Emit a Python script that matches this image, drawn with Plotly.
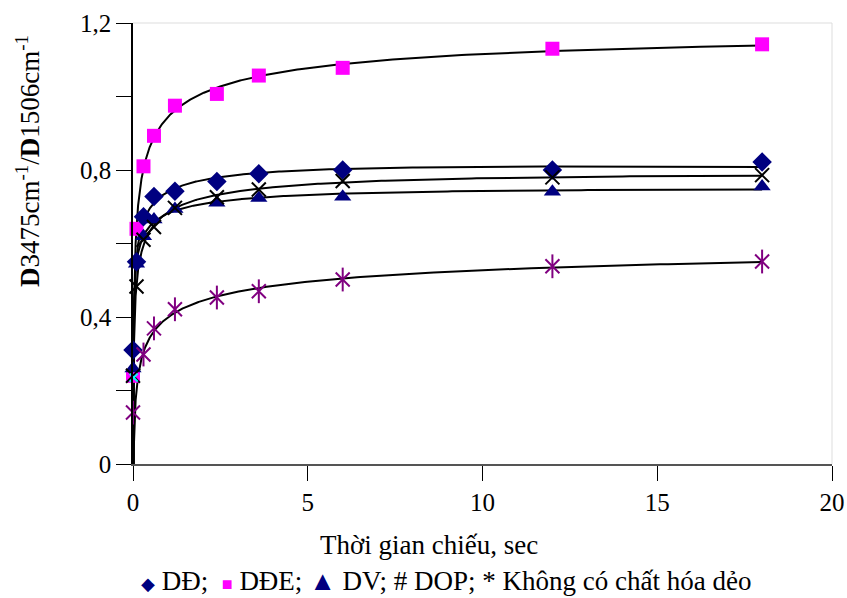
import numpy as np
import plotly.graph_objects as go

# Time (sec)
time_dd = [0, 0.1, 0.3, 0.6, 1.2, 2.4, 3.6, 6, 12, 18]
dd = [0.31, 0.55, 0.673, 0.728, 0.742, 0.769, 0.79, 0.80, 0.80, 0.822]

time_dde = [0, 0.1, 0.3, 0.6, 1.2, 2.4, 3.6, 6, 12, 18]
dde = [0.24, 0.64, 0.81, 0.893, 0.975, 1.007, 1.057, 1.078, 1.13, 1.142]

time_dv = [0, 0.1, 0.3, 0.6, 1.2, 2.4, 3.6, 6, 12, 18]
dv = [0.26, 0.545, 0.62, 0.665, 0.694, 0.711, 0.724, 0.727, 0.741, 0.755]

time_dop = [0, 0.1, 0.3, 0.6, 1.2, 2.4, 3.6, 6, 12, 18]
dop = [0.24, 0.483, 0.61, 0.645, 0.697, 0.726, 0.747, 0.77, 0.78, 0.786]

time_none = [0, 0.3, 0.6, 1.2, 2.4, 3.6, 6, 12, 18]
none = [0.14, 0.298, 0.369, 0.421, 0.453, 0.470, 0.502, 0.538, 0.551]

time_extra = [0.02]
extra = [0.235]

x_ticks = [0, 5, 10, 15, 20]
y_ticks = [0, 0.2, 0.4, 0.6, 0.8, 1.0, 1.2]
y_tick_text = ["0", "", "0,4", "", "0,8", "", "1,2"]

FONT = "Liberation Serif"
fig = go.Figure()


def trend(xs, ys):
    xs = np.array(xs, dtype=float)
    ys = np.array(ys, dtype=float)
    m = xs > 0
    c = np.polyfit(np.log(xs[m]), ys[m], 2)
    xx = np.concatenate([np.linspace(0.0005, 0.05, 200), np.logspace(np.log10(0.05), np.log10(18), 400)])
    return xx, np.polyval(c, np.log(xx))


for xs, ys in [(time_dd, dd), (time_dde, dde), (time_dv, dv), (time_dop, dop), (time_none, none)]:
    tx, ty = trend(xs, ys)
    fig.add_trace(go.Scatter(x=tx, y=ty, mode="lines", line=dict(color="black", width=2),
                             showlegend=False, hoverinfo="skip"))

series = [
    (time_dde, dde, dict(symbol="square", size=14, color="#FF00FF")),
    (time_dd, dd, dict(symbol="diamond", size=15, color="#000080")),
    (time_dv, dv, dict(symbol="triangle-up", size=15, color="#000080")),
    (time_dop, dop, dict(symbol="x-thin-open", size=14, color="black", line=dict(width=2, color="black"))),
    (time_none, none, dict(symbol="x-thin-open", size=14, color="#800080", line=dict(width=2, color="#800080"))),
    (time_none, none, dict(symbol="line-ns-open", size=17, color="#800080", line=dict(width=2, color="#800080"))),
    (time_extra, extra, dict(symbol="x-thin-open", size=8, color="#00FFFF", line=dict(width=2, color="#00FFFF"))),
]
for xs, ys, mk in series:
    fig.add_trace(go.Scatter(x=xs, y=ys, mode="markers", marker=mk, cliponaxis=False, showlegend=False))

fig.update_xaxes(range=[0, 20], tickvals=x_ticks, ticks="outside", ticklen=15, tickwidth=1,
                 tickcolor="black", showline=True, linecolor="#555555", linewidth=1.5,
                 showgrid=False, zeroline=False, automargin=False,
                 tickfont=dict(family=FONT, size=25, color="black"))
fig.update_yaxes(range=[0, 1.2], tickvals=y_ticks, ticktext=y_tick_text, ticks="outside", ticklen=15,
                 tickwidth=1, tickcolor="black", showline=True, linecolor="black", linewidth=1.5,
                 showgrid=False, zeroline=False, automargin=False,
                 tickfont=dict(family=FONT, size=25, color="black"))

fig.add_shape(type="line", xref="paper", yref="paper", x0=0, x1=1, y0=1, y1=1,
              line=dict(color="#dddddd", width=1))
fig.add_shape(type="line", xref="paper", yref="paper", x0=1, x1=1, y0=0, y1=1,
              line=dict(color="#dddddd", width=1))

fig.add_annotation(text="<b>D</b>3475cm<sup>-1</sup>/<b>D</b>1506cm<sup>-1</sup>",
                   xref="paper", yref="paper", x=(28 - 133) / 699, y=(464 - 161) / 441,
                   textangle=-90, showarrow=False, xanchor="center", yanchor="middle",
                   font=dict(family=FONT, size=27, color="black"))
fig.add_annotation(text="Thời gian chiếu, sec", xref="paper", yref="paper",
                   x=(429 - 133) / 699, y=(464 - 545) / 441, showarrow=False,
                   xanchor="center", yanchor="middle", font=dict(family=FONT, size=27, color="black"))
fig.add_annotation(text=("<span style='color:#000080;font-size:18px'>◆</span> DĐ;  "
                         "<span style='color:#FF00FF;font-size:18px'>■</span> DĐE; "
                         "<span style='color:#000080'>▲</span> DV; # DOP; * Không có chất hóa dẻo"),
                   xref="paper", yref="paper", x=(446 - 133) / 699, y=(464 - 581) / 441,
                   showarrow=False, xanchor="center", yanchor="middle",
                   font=dict(family=FONT, size=27, color="black"))

fig.update_layout(width=847, height=598, margin=dict(l=133, r=15, t=23, b=134),
                  paper_bgcolor="white", plot_bgcolor="white", showlegend=False)

fig.write_html("out.html", config={"displayModeBar": False},
               post_script="document.body.style.margin='0';document.body.style.overflow='hidden';")
